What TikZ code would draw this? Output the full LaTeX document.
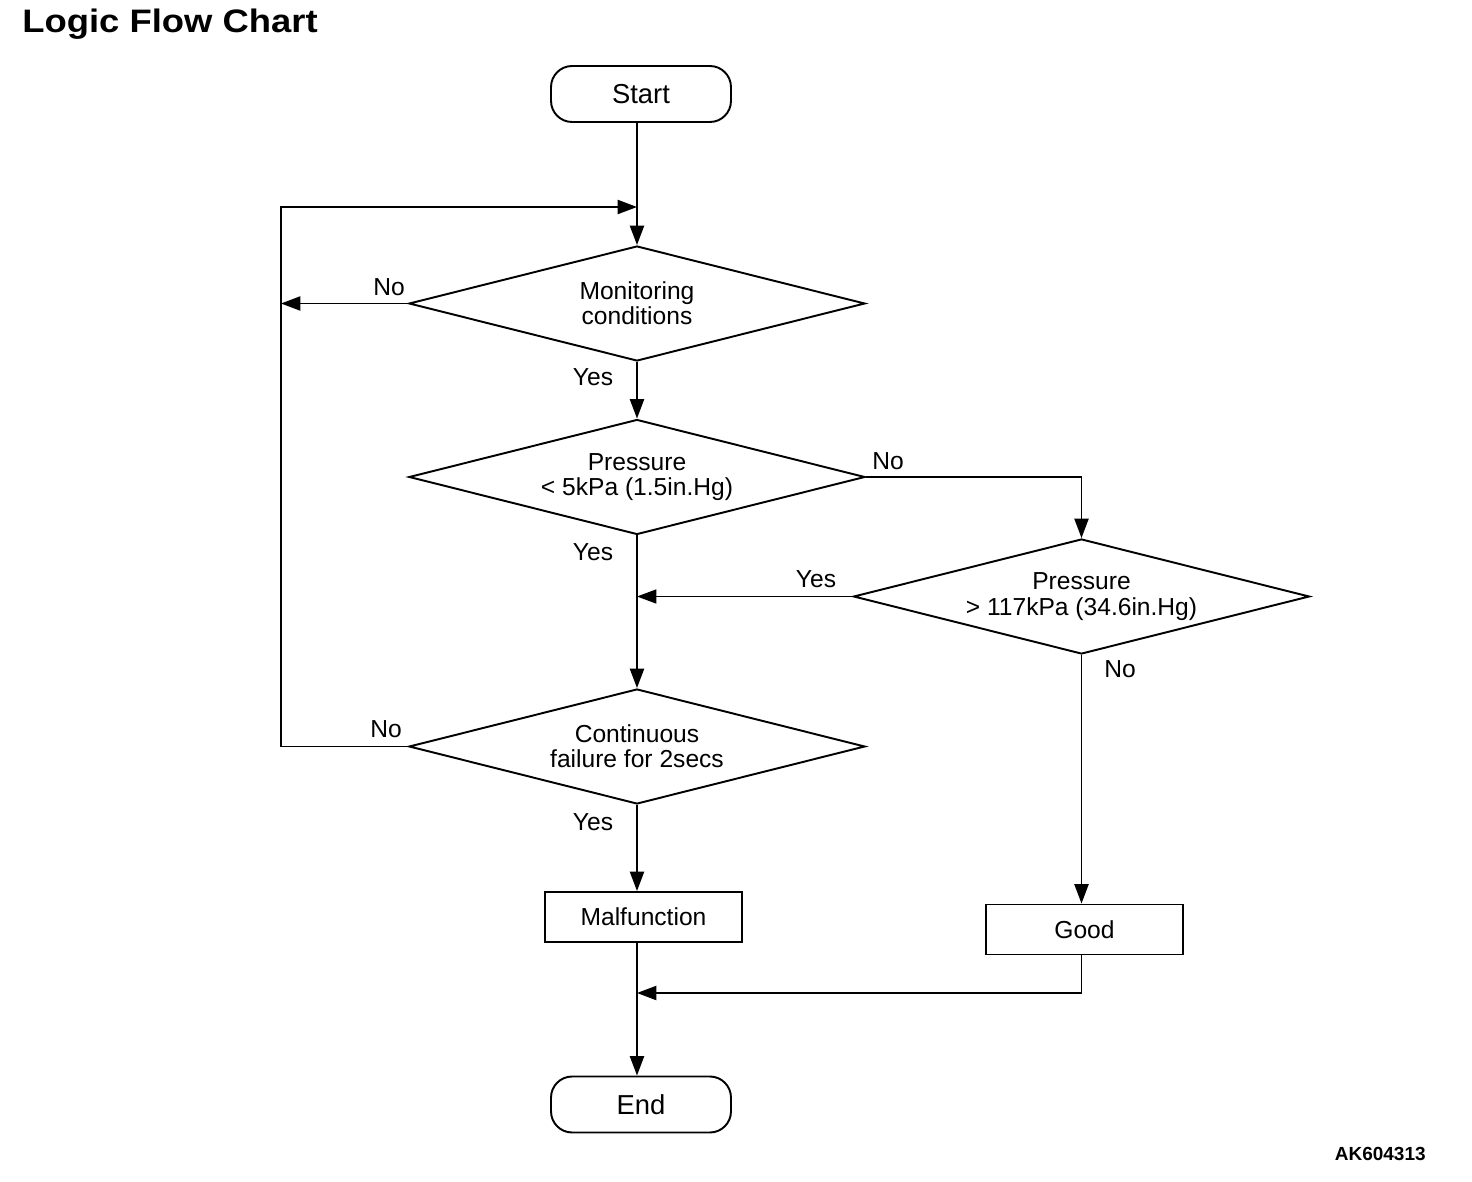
\documentclass[tikz,border=0pt]{standalone}
\usepackage{fontspec}
\setmainfont{Liberation Sans}
\newfontfamily\titlefont[FakeStretch=1.12]{Liberation Sans}
\usetikzlibrary{shapes.geometric, arrows.meta}

\begin{document}
\begin{tikzpicture}[x=0.02cm, y=-0.02cm,
    font=\fontsize{14}{14.4}\selectfont,
    decision/.style={draw, diamond, aspect=3.97, line width=1.1pt, inner sep=0pt, minimum width=9.12cm, minimum height=2.3cm, align=center},
    terminal/.style={draw, rectangle, rounded corners=12pt, line width=1.1pt, minimum width=3.6cm, minimum height=1.12cm, font=\fontsize{15.6}{16}\selectfont},
    process/.style={draw, rectangle, line width=1.1pt, minimum width=3.94cm, minimum height=1cm},
    flow/.style={line width=1.1pt, -{Triangle[length=11pt,width=8pt]}},
    thinflow/.style={flow, line width=0.7pt}]
    \useasboundingbox (0,0) rectangle (1472,1182);

    % title and figure code
    \node[anchor=west, inner sep=0pt, font=\titlefont\fontsize{18.5}{20}\bfseries] (title) at (22,24) {Logic Flow Chart};
    \node[anchor=east, inner sep=0pt, font=\fontsize{10.8}{12}\bfseries] (code) at (1426,1154) {AK604313};

    % shapes
    \node[terminal] (start) at (641,94) {Start};
    \node[decision] (mon) at (637,303.5) {Monitoring\\conditions};
    \node[decision] (lowp) at (637,477) {Pressure\\< 5kPa (1.5in.Hg)};
    \node[decision] (highp) at (1081.5,596.5) {Pressure\\> 117kPa (34.6in.Hg)};
    \node[decision] (cont) at (637,746.5) {Continuous\\failure for 2secs};
    \node[process] (mal) at (643.5,917) {Malfunction};
    \node[process] (good) at (1084.5,929.5) {Good};
    \node[terminal] (end) at (641,1104.5) {End};

    \coordinate (loop) at (281,207);
    \coordinate (join1) at (637,207);
    \coordinate (join2) at (637,993);

    % connectors
    \draw[flow] (mon.north |- start.south) -- (mon.north);
    \draw[flow] (cont.west) -| (loop) -- (join1);
    \draw[flow] (mon.west) -- (mon.west -| loop);
    \draw[flow] (mon.south) -- (lowp.north);
    \draw[flow] (lowp.south) -- (cont.north);
    \draw[flow] (lowp.east) -| (highp.north);
    \draw[thinflow] (highp.west) -- (highp.west -| lowp.south);
    \draw[flow] (highp.south) -- (highp.south |- good.north);
    \draw[flow] (cont.south) -- (cont.south |- mal.north);
    \draw[flow] (good.south -| highp.south) |- (join2);
    \draw[flow] (join2 |- mal.south) -- (join2 |- end.north);

    % branch labels
    \node (noMon) at (389,287) {No};
    \node (yesMon) at (593,377) {Yes};
    \node (noLow) at (888,461) {No};
    \node (yesLow) at (593,552) {Yes};
    \node (yesHigh) at (816,579) {Yes};
    \node (noHigh) at (1120,669) {No};
    \node (noCont) at (386,729) {No};
    \node (yesCont) at (593,822) {Yes};
\end{tikzpicture}
\end{document}
